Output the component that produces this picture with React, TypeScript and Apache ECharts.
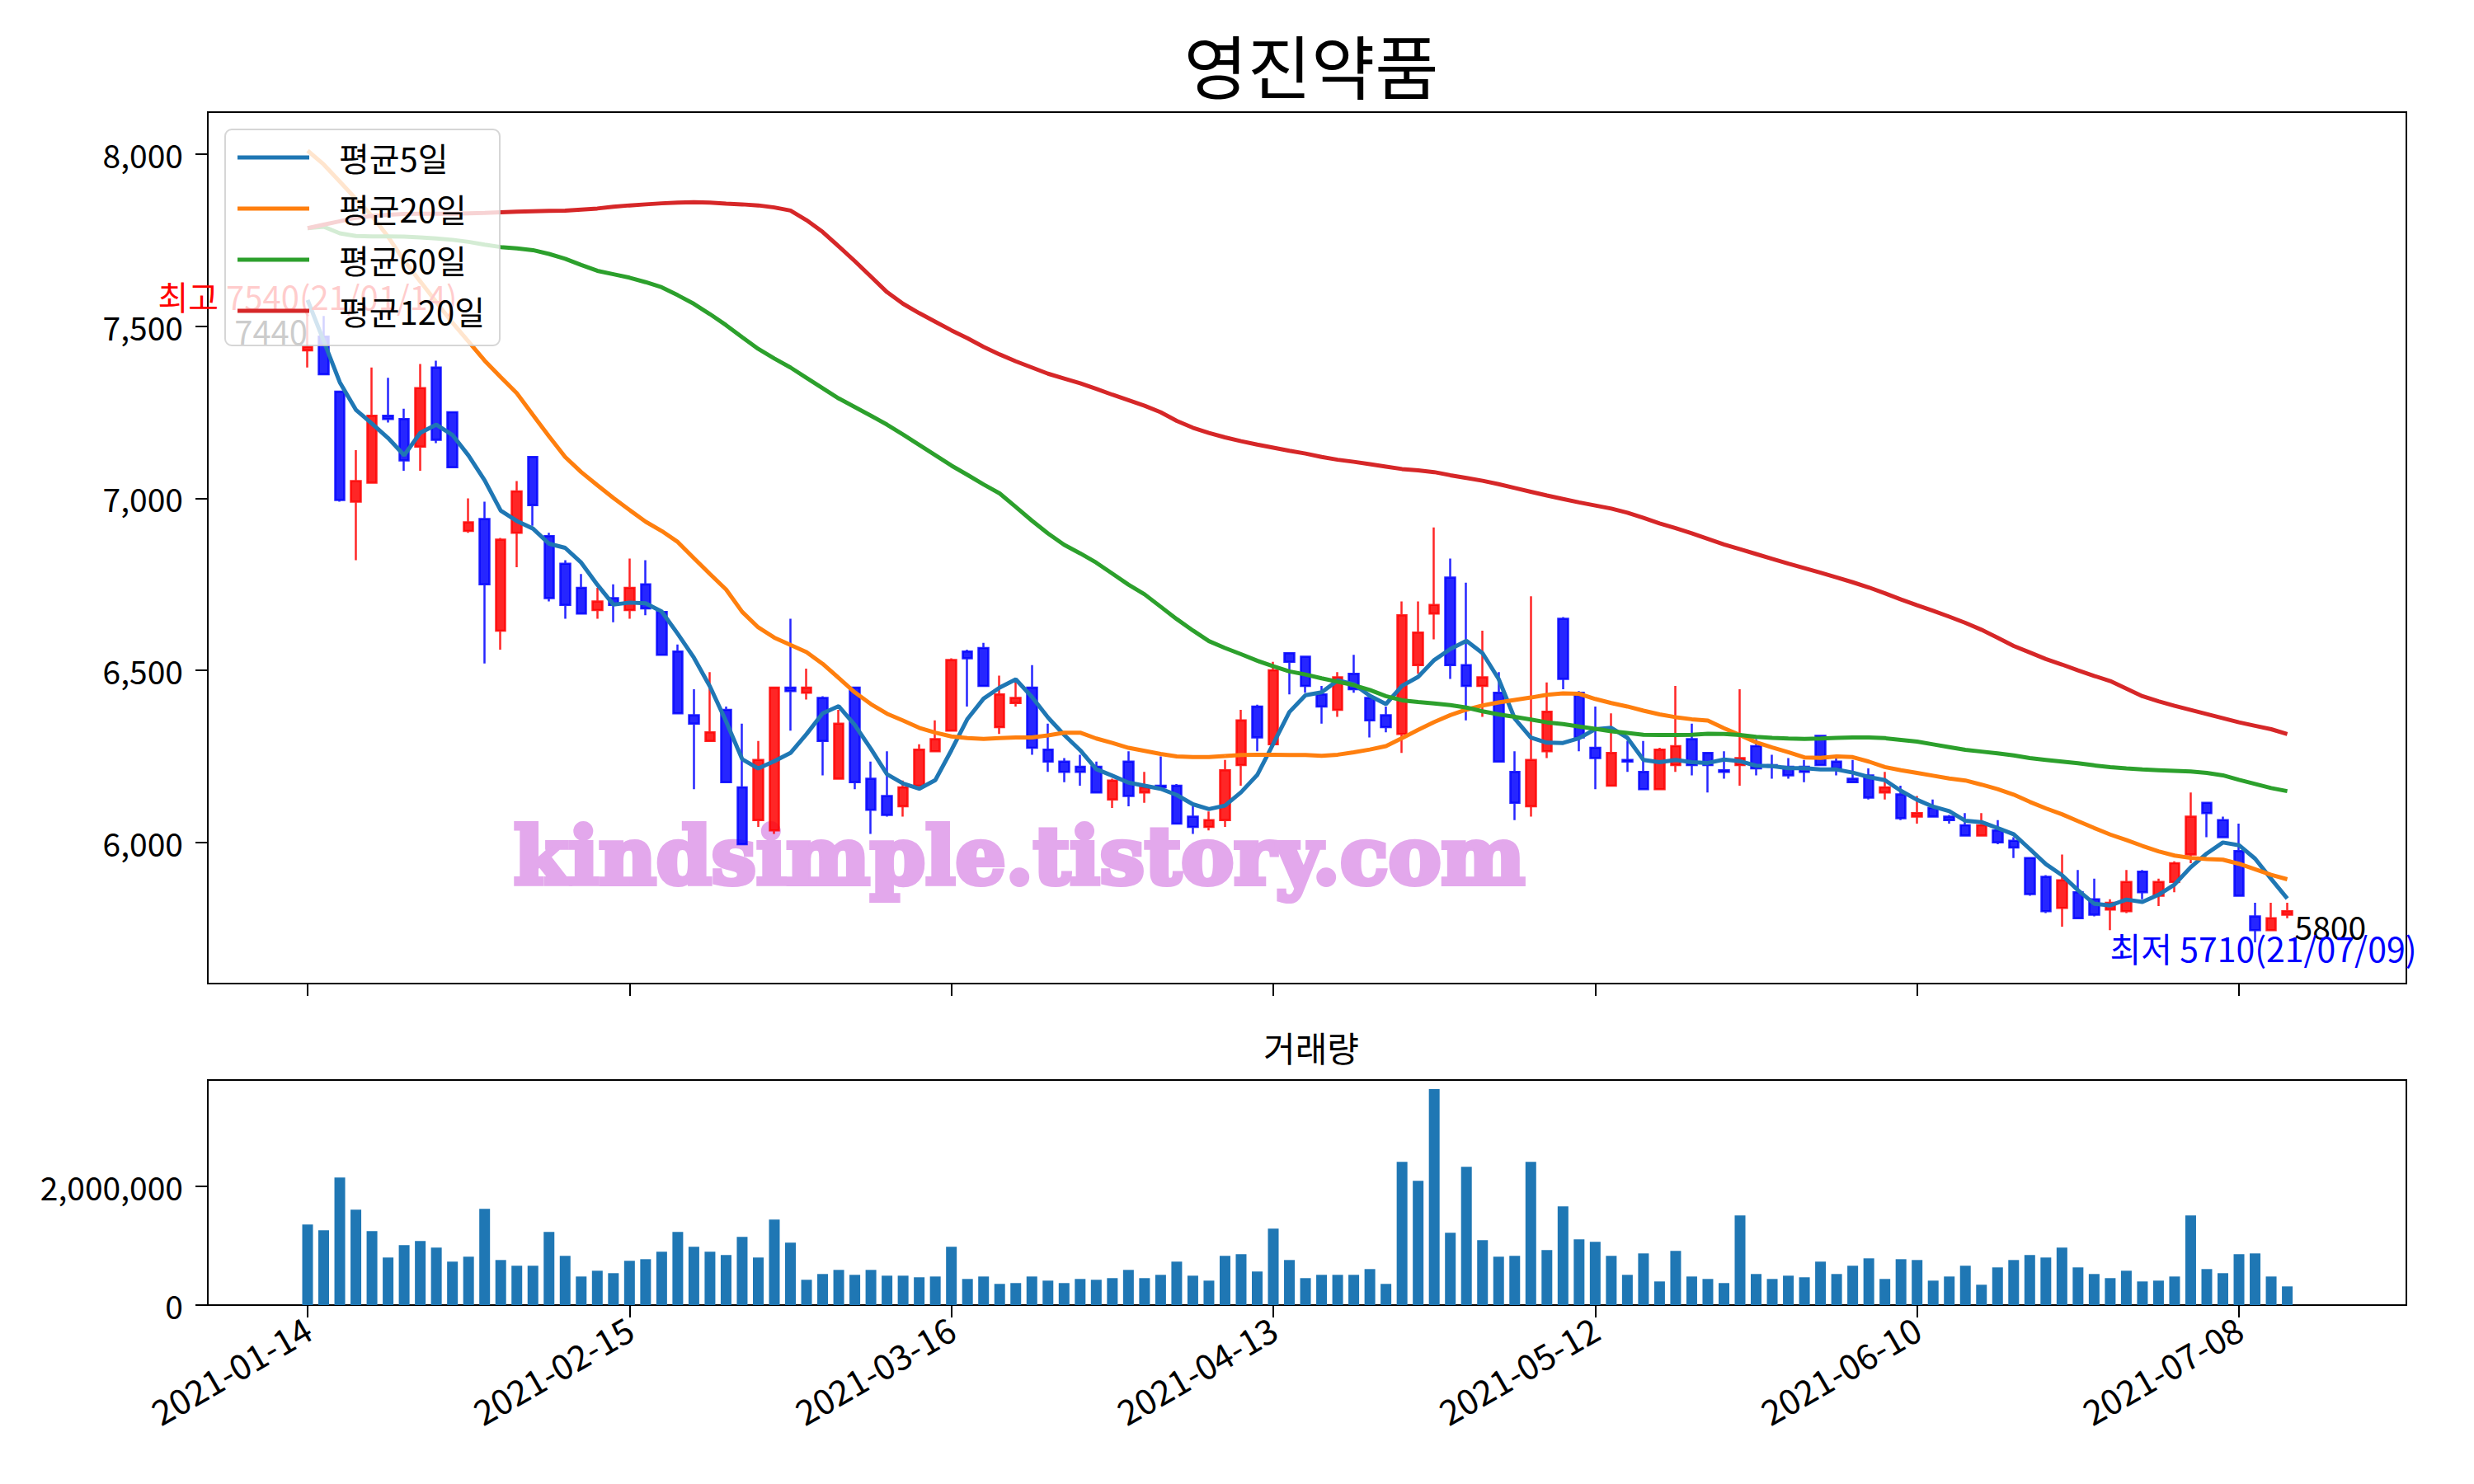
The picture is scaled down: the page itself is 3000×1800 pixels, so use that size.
import * as echarts from "echarts";
import React, { useEffect, useRef } from "react";

// 일봉 (2021-01-14 ~ 2021-07-13, 124 거래일)
const opens = [
  7430, 7470, 7310, 6990, 7045, 7240, 7230, 7150, 7380, 7250,
  6905, 6940, 6615, 6900, 7120, 6890, 6810, 6740, 6675, 6710,
  6675, 6750, 6670, 6555, 6370, 6295, 6385, 6160, 6065, 6035,
  6450, 6435, 6420, 6185, 6450, 6185, 6135, 6105, 6165, 6265,
  6325, 6555, 6565, 6335, 6405, 6450, 6270, 6235, 6220, 6220,
  6125, 6235, 6145, 6165, 6165, 6075, 6045, 6065, 6225, 6395,
  6285, 6550, 6540, 6430, 6385, 6490, 6420, 6370, 6315, 6515,
  6665, 6770, 6515, 6455, 6435, 6205, 6105, 6265, 6650, 6435,
  6275, 6165, 6240, 6205, 6155, 6225, 6300, 6260, 6210, 6225,
  6280, 6225, 6220, 6220, 6310, 6235, 6185, 6195, 6145, 6140,
  6075, 6100, 6075, 6050, 6020, 6035, 6005, 5955, 5900, 5810,
  5855, 5835, 5805, 5800, 5915, 5845, 5885, 5965, 6115, 6065,
  5975, 5785, 5745, 5790,
];
const closes = [
  7440, 7360, 6995, 7050, 7240, 7230, 7110, 7320, 7170, 7090,
  6930, 6750, 6880, 7020, 6980, 6710, 6690, 6665, 6700, 6690,
  6740, 6680, 6545, 6375, 6345, 6320, 6175, 5995, 6240, 6450,
  6440, 6450, 6295, 6345, 6175, 6095, 6080, 6160, 6270, 6300,
  6530, 6535, 6455, 6430, 6420, 6275, 6235, 6205, 6205, 6145,
  6180, 6135, 6160, 6160, 6055, 6045, 6065, 6210, 6355, 6305,
  6500, 6525, 6455, 6395, 6480, 6445, 6355, 6335, 6660, 6610,
  6690, 6515, 6455, 6480, 6235, 6115, 6240, 6380, 6475, 6305,
  6245, 6260, 6235, 6155, 6270, 6280, 6225, 6225, 6205, 6245,
  6215, 6220, 6195, 6205, 6225, 6215, 6175, 6130, 6160, 6070,
  6085, 6075, 6065, 6020, 6050, 6000, 5985, 5850, 5800, 5890,
  5780, 5790, 5825, 5885, 5855, 5885, 5940, 6075, 6085, 6015,
  5845, 5745, 5780, 5800,
];
const lows = [
  7380, 7360, 6990, 6820, 7045, 7220, 7080, 7080, 7160, 7090,
  6900, 6520, 6560, 6800, 6920, 6700, 6650, 6665, 6650, 6640,
  6650, 6660, 6545, 6375, 6155, 6295, 6175, 5995, 6045, 6025,
  6325, 6415, 6195, 6185, 6155, 6025, 6075, 6075, 6165, 6265,
  6325, 6395, 6455, 6315, 6395, 6255, 6205, 6175, 6165, 6145,
  6100, 6105, 6115, 6155, 6055, 6025, 6035, 6045, 6165, 6265,
  6285, 6430, 6435, 6345, 6365, 6435, 6305, 6320, 6260, 6490,
  6590, 6475, 6355, 6365, 6235, 6065, 6075, 6245, 6445, 6265,
  6155, 6165, 6205, 6155, 6155, 6205, 6195, 6145, 6185, 6165,
  6195, 6185, 6185, 6175, 6225, 6195, 6175, 6125, 6125, 6065,
  6055, 6075, 6055, 6020, 6020, 5995, 5955, 5845, 5795, 5755,
  5780, 5785, 5745, 5795, 5835, 5815, 5855, 5940, 6015, 6015,
  5845, 5710, 5745, 5780,
];
const highs = [
  7540, 7530, 7310, 7140, 7380, 7350, 7260, 7390, 7400, 7250,
  7000, 6990, 6885, 7050, 7120, 6900, 6820, 6780, 6740, 6750,
  6825, 6820, 6670, 6575, 6445, 6495, 6395, 6345, 6295, 6450,
  6650, 6505, 6425, 6385, 6450, 6235, 6265, 6180, 6285, 6355,
  6535, 6560, 6580, 6485, 6465, 6515, 6345, 6245, 6255, 6235,
  6185, 6265, 6205, 6250, 6170, 6105, 6090, 6240, 6385, 6400,
  6525, 6550, 6540, 6455, 6495, 6545, 6420, 6395, 6700, 6700,
  6915, 6825, 6755, 6615, 6495, 6265, 6715, 6465, 6655, 6440,
  6395, 6375, 6295, 6295, 6275, 6455, 6345, 6260, 6265, 6445,
  6300, 6255, 6245, 6240, 6310, 6245, 6240, 6215, 6205, 6165,
  6135, 6125, 6080, 6085, 6085, 6065, 6015, 5955, 5905, 5965,
  5920, 5895, 5835, 5920, 5920, 5895, 5945, 6145, 6115, 6075,
  6055, 5825, 5825, 5825,
];
// 조회 시작 전 4거래일 종가 (5일 평균용)
const prevCloses = [7955, 7595, 7450, 7440];

const volumes = [
  1353000, 1256000, 2143000, 1603000, 1242000, 799000, 1007000, 1076000, 965000, 730000,
  813000, 1617000, 757000, 661000, 661000, 1229000, 827000, 480000, 577000, 536000,
  744000, 771000, 896000, 1229000, 979000, 896000, 841000, 1145000, 799000, 1436000,
  1048000, 425000, 522000, 591000, 508000, 591000, 494000, 494000, 467000, 480000,
  979000, 439000, 480000, 356000, 370000, 480000, 411000, 370000, 439000, 425000,
  453000, 591000, 453000, 508000, 730000, 494000, 411000, 827000, 855000, 564000,
  1284000, 757000, 453000, 508000, 508000, 508000, 605000, 356000, 2406000, 2088000,
  3626000, 1215000, 2323000, 1090000, 813000, 827000, 2406000, 924000, 1658000, 1104000,
  1062000, 827000, 508000, 868000, 397000, 910000, 480000, 439000, 370000, 1506000,
  522000, 439000, 494000, 467000, 730000, 522000, 661000, 785000, 439000, 771000,
  757000, 411000, 480000, 661000, 342000, 633000, 757000, 841000, 799000, 965000,
  633000, 522000, 453000, 577000, 397000, 411000, 480000, 1506000, 605000, 536000,
  855000, 868000, 480000, 314000,
];

const ma20 = [
  8010, 7970, 7920, 7870, 7820, 7760, 7690, 7630, 7570, 7510,
  7455, 7400, 7352, 7305, 7242, 7180, 7120, 7076, 7038, 7001,
  6966, 6932, 6905, 6873, 6826, 6780, 6735, 6670, 6625, 6595,
  6574, 6553, 6519, 6478, 6436, 6402, 6374, 6354, 6333, 6319,
  6308, 6303, 6301, 6303, 6305, 6305, 6311, 6319, 6319, 6302,
  6289, 6275, 6266, 6257, 6250, 6248, 6248, 6251, 6254, 6255,
  6255, 6254, 6254, 6252, 6255, 6262, 6270, 6280, 6303, 6327,
  6350, 6370, 6386, 6398, 6407, 6414, 6421, 6429, 6433, 6432,
  6417, 6405, 6395, 6383, 6372, 6364, 6358, 6354, 6332, 6312,
  6291, 6276, 6262, 6247, 6246, 6250, 6248, 6235, 6219, 6210,
  6202, 6194, 6186, 6180, 6168, 6155, 6139, 6118, 6099, 6082,
  6062, 6042, 6023, 6007, 5990, 5974, 5962, 5955, 5952, 5950,
  5938, 5922, 5906, 5893,
];
const ma60 = [
  7785, 7789, 7770, 7762, 7761, 7761, 7760, 7758, 7755, 7751,
  7745, 7737, 7730, 7726, 7721, 7710, 7696, 7678, 7661, 7651,
  7641, 7628, 7613, 7590, 7565, 7535, 7503, 7468, 7434, 7406,
  7380, 7350, 7320, 7290, 7265, 7240, 7214, 7185, 7155, 7125,
  7095, 7068, 7040, 7014, 6975, 6935, 6898, 6865, 6840, 6813,
  6781, 6749, 6721, 6685, 6649, 6616, 6585, 6565, 6547, 6528,
  6512, 6497, 6488, 6477, 6467, 6457, 6443, 6425, 6413, 6408,
  6404, 6399, 6392, 6381, 6372, 6365, 6357, 6349, 6344, 6337,
  6330, 6323, 6318, 6313, 6312, 6312, 6313, 6316, 6315, 6312,
  6307, 6304, 6302, 6301, 6302, 6304, 6305, 6305, 6303, 6298,
  6293, 6285, 6277, 6269, 6264, 6259, 6253, 6245, 6240, 6235,
  6230, 6224, 6219, 6215, 6212, 6210, 6208, 6206, 6202, 6195,
  6182, 6170, 6158, 6149,
];
const ma120 = [
  7785, 7795, 7805, 7815, 7820, 7824, 7826, 7827, 7827, 7827,
  7828, 7829, 7831, 7833, 7834, 7835, 7836, 7839, 7842, 7847,
  7851, 7854, 7857, 7859, 7860, 7859, 7856, 7854, 7851, 7845,
  7836, 7808, 7774, 7732, 7689, 7644, 7599, 7565, 7538, 7513,
  7488, 7465, 7440, 7418, 7398, 7380, 7362, 7348, 7334, 7318,
  7301, 7285, 7269, 7250, 7225, 7205, 7190, 7177, 7166, 7156,
  7147, 7138, 7130, 7120, 7112, 7106, 7099, 7092, 7085, 7081,
  7076, 7067, 7059, 7051, 7041, 7030, 7019, 7008, 6998, 6988,
  6979, 6970, 6958, 6943, 6927, 6913, 6898, 6882, 6866, 6852,
  6838, 6824, 6810, 6797, 6784, 6770, 6756, 6741, 6724, 6706,
  6689, 6673, 6656, 6638, 6618, 6595, 6571, 6552, 6533, 6517,
  6500, 6484, 6469, 6447, 6425, 6410, 6397, 6385, 6373, 6361,
  6349, 6339, 6329, 6315,
];

const tickIndex = [0, 20, 40, 60, 80, 100, 120];
const tickLabels = ["2021-01-14", "2021-02-15", "2021-03-16", "2021-04-13", "2021-05-12", "2021-06-10", "2021-07-08"];
const priceTicks = [6000, 6500, 7000, 7500, 8000];
const volumeTicks = [0, 2000000];

const FONT = "'Noto Sans CJK KR', 'Noto Sans', sans-serif";

const fmt = (v) => Number(v).toLocaleString("en-US");

const App = () => {
  const ref = useRef(null);

  useEffect(() => {
    document.body.style.margin = "0";

    // 5일 이동평균 (종가 기준)
    const all = prevCloses.concat(closes);
    const ma5 = closes.map((_, i) => {
      let s = 0;
      for (let k = i; k < i + 5; k++) s += all[k];
      return Math.round(s / 5);
    });

    const candleData = closes.map((c, i) => [i, opens[i], c, lows[i], highs[i]]);
    const toXY = (arr) => arr.map((v, i) => [i, v]);

    const lineSeries = (name, data, color) => ({
      name,
      type: "line",
      xAxisIndex: 0,
      yAxisIndex: 0,
      data: toXY(data),
      symbol: "none",
      showSymbol: false,
      lineStyle: { width: 5, color },
      itemStyle: { color },
      z: 3,
      silent: true,
    });

    const axisLineStyle = { show: true, onZero: false, lineStyle: { color: "#000", width: 2 } };
    const tickStyle = { length: 15, lineStyle: { color: "#000", width: 2 } };

    const option = {
      animation: false,
      backgroundColor: "#fff",
      title: [
        {
          text: "영진약품",
          left: 1585,
          top: 30,
          textAlign: "center",
          textStyle: { fontSize: 84, fontWeight: "normal", color: "#000", fontFamily: FONT },
        },
        {
          text: "거래량",
          left: 1585,
          top: 1243,
          textAlign: "center",
          textStyle: { fontSize: 42, fontWeight: "normal", color: "#000", fontFamily: FONT },
        },
      ],
      legend: {
        data: ["평균5일", "평균20일", "평균60일", "평균120일"],
        orient: "vertical",
        left: 273,
        top: 157,
        padding: [14, 18, 22, 15],
        icon: "rect",
        itemWidth: 87,
        itemHeight: 5,
        itemGap: 22,
        backgroundColor: "rgba(255,255,255,0.8)",
        borderColor: "rgba(204,204,204,0.8)",
        borderWidth: 2,
        borderRadius: 8,
        selectedMode: false,
        textStyle: { fontSize: 40, lineHeight: 40, color: "#000", fontFamily: FONT, padding: [0, 0, 0, 31] },
        z: 10,
      },
      grid: [
        { left: 252, top: 136, width: 2666, height: 1057, show: true, borderColor: "#000", borderWidth: 2, backgroundColor: "transparent" },
        { left: 252, top: 1310, width: 2666, height: 273, show: true, borderColor: "#000", borderWidth: 2, backgroundColor: "transparent" },
      ],
      xAxis: [
        {
          type: "value",
          gridIndex: 0,
          min: -6.2,
          max: 130.4,
          axisLine: axisLineStyle,
          axisTick: { show: true, ...tickStyle, customValues: tickIndex },
          axisLabel: { show: false },
          splitLine: { show: false },
        },
        {
          type: "value",
          gridIndex: 1,
          min: -6.2,
          max: 130.4,
          axisLine: axisLineStyle,
          axisTick: { show: true, ...tickStyle, customValues: tickIndex },
          axisLabel: {
            show: true,
            customValues: tickIndex,
            rotate: 30,
            margin: 24,
            fontSize: 42,
            color: "#000",
            fontFamily: FONT,
            formatter: (v) => tickLabels[tickIndex.indexOf(Math.round(v))] || "",
          },
          splitLine: { show: false },
        },
      ],
      yAxis: [
        {
          type: "value",
          gridIndex: 0,
          min: 5590,
          max: 8122,
          axisLine: axisLineStyle,
          axisTick: { show: true, ...tickStyle, customValues: priceTicks },
          axisLabel: { customValues: priceTicks, margin: 30, fontSize: 39, color: "#000", fontFamily: FONT, formatter: fmt },
          splitLine: { show: false },
        },
        {
          type: "value",
          gridIndex: 1,
          min: 0,
          max: 3780000,
          axisLine: axisLineStyle,
          axisTick: { show: true, ...tickStyle, customValues: volumeTicks },
          axisLabel: { customValues: volumeTicks, margin: 30, fontSize: 39, color: "#000", fontFamily: FONT, formatter: fmt },
          splitLine: { show: false },
        },
      ],
      graphic: [
        {
          type: "text",
          x: 1236,
          y: 1038,
          z: 1,
          silent: true,
          style: {
            text: "kindsimple.tistory.com",
            fill: "#e3a8ec",
            stroke: "#e3a8ec",
            lineWidth: 6,
            font: "bold 96px 'DejaVu Serif', serif",
            align: "center",
            verticalAlign: "middle",
          },
        },
      ],
      series: [
        {
          name: "일봉",
          type: "candlestick",
          xAxisIndex: 0,
          yAxisIndex: 0,
          dimensions: ["idx", "open", "close", "lowest", "highest"],
          encode: { x: "idx", y: ["open", "close", "lowest", "highest"] },
          data: candleData,
          barWidth: 12,
          silent: true,
          z: 2,
          itemStyle: {
            color: "rgba(255,0,0,0.85)",
            color0: "rgba(0,0,255,0.85)",
            borderColor: "rgba(255,0,0,0.85)",
            borderColor0: "rgba(0,0,255,0.85)",
            borderWidth: 2.5,
          },
          markPoint: {
            silent: true,
            symbol: "circle",
            symbolSize: 0,
            data: [
              {
                coord: [0, 7540],
                label: { show: true, position: [0, 0], align: "center", verticalAlign: "bottom", formatter: "최고 7540(21/01/14)", color: "red", fontSize: 40, fontFamily: FONT },
              },
              {
                coord: [0, 7440],
                label: { show: true, position: [0, 0], align: "right", verticalAlign: "bottom", formatter: "7440", color: "#000", fontSize: 40, fontFamily: FONT },
              },
              {
                coord: [123, 5800],
                label: { show: true, position: [0, 0], align: "left", verticalAlign: "top", offset: [9, -2], formatter: "5800", color: "#000", fontSize: 39, fontFamily: FONT },
              },
              {
                coord: [121, 5710],
                label: { show: true, position: [0, 0], align: "center", verticalAlign: "middle", offset: [10, 6], formatter: "최저 5710(21/07/09)", color: "blue", fontSize: 41, fontFamily: FONT },
              },
            ],
          },
        },
        lineSeries("평균5일", ma5, "#1f77b4"),
        lineSeries("평균20일", ma20, "#ff7f0e"),
        lineSeries("평균60일", ma60, "#2ca02c"),
        lineSeries("평균120일", ma120, "#d62728"),
        {
          name: "거래량",
          type: "bar",
          xAxisIndex: 1,
          yAxisIndex: 1,
          data: toXY(volumes),
          barWidth: 13,
          silent: true,
          itemStyle: { color: "#1f77b4" },
        },
      ],
    };

    const myChart = echarts.init(ref.current, null, { renderer: "svg" });
    myChart.setOption(option);
    return () => {
      myChart.dispose && myChart.dispose();
    };
  }, []);

  return <div ref={ref} style={{ width: 3000, height: 1800, margin: 0 }}></div>;
};

export default App;
